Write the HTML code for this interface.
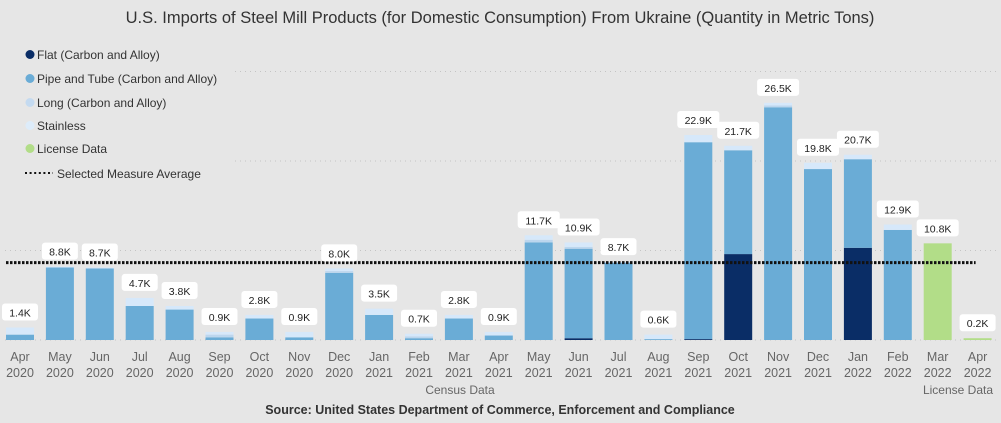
<!DOCTYPE html>
<html><head><meta charset="utf-8"><style>
html,body{margin:0;padding:0;background:#e6e6e6;}
svg{display:block;font-family:"Liberation Sans",sans-serif;}
</style></head><body>
<svg id="chart" width="1001" height="423">
<rect x="0" y="0" width="1001" height="423" fill="#e6e6e6"/>
<text x="500" y="23" text-anchor="middle" font-size="16.5" fill="#333">U.S. Imports of Steel Mill Products (for Domestic Consumption) From Ukraine  (Quantity in Metric Tons)</text>
<g id="grid"></g>
<g id="bars"></g>
<g id="avg"></g>
<g id="labels"></g>
<g id="xaxis"></g>
<rect x="0" y="40" width="232" height="145" fill="#e6e6e6"/>
<g font-size="12" fill="#333">
<g><circle cx="30" cy="54.5" r="4.5" fill="#0a2d66"/><text x="37" y="59" fill="#333">Flat (Carbon and Alloy)</text></g>
<g><circle cx="30" cy="78.5" r="4.5" fill="#6aacd6"/><text x="37" y="83" fill="#333">Pipe and Tube (Carbon and Alloy)</text></g>
<g><circle cx="30" cy="102.5" r="4.5" fill="#c4daf0"/><text x="37" y="107" fill="#333">Long (Carbon and Alloy)</text></g>
<g><circle cx="30" cy="125.5" r="4.5" fill="#ddecfa"/><text x="37" y="130" fill="#333">Stainless</text></g>
<g><circle cx="30" cy="148.5" r="4.5" fill="#b2dd88"/><text x="37" y="153" fill="#333">License Data</text></g>
<g><line x1="25" y1="173" x2="53" y2="173" stroke="#111" stroke-width="2" stroke-dasharray="2,2.6"/><text x="57" y="178" fill="#333">Selected Measure Average</text></g>
</g>
<text x="460" y="394" text-anchor="middle" font-size="12" fill="#666">Census Data</text>
<text x="958" y="394" text-anchor="middle" font-size="12" fill="#666">License Data</text>
<text x="500" y="414" text-anchor="middle" font-size="12.5" font-weight="bold" fill="#333">Source: United States Department of Commerce, Enforcement and Compliance</text>
</svg>
<script>
const months = ["Apr","May","Jun","Jul","Aug","Sep","Oct","Nov","Dec","Jan","Feb","Mar","Apr","May","Jun","Jul","Aug","Sep","Oct","Nov","Dec","Jan","Feb","Mar","Apr"];
const years = ["2020","2020","2020","2020","2020","2020","2020","2020","2020","2021","2021","2021","2021","2021","2021","2021","2021","2021","2021","2021","2021","2022","2022","2022","2022"];
const flat = [0,0,0,0,0,0,0,0,0,0,0,0,0,0,0.2,0,0,0.1,9.6,0,0,10.3,0,0,0];
const pipe = [0.6,8.1,8.0,3.8,3.4,0.3,2.4,0.3,7.5,2.8,0.2,2.4,0.5,10.9,10.0,8.6,0.1,22.0,11.6,26.0,19.1,9.9,12.3,0,0];
const longP = [0,0,0,0,0,0.3,0,0,0.2,0,0.2,0,0,0.3,0.2,0.1,0,0,0,0.2,0,0,0,0,0];
const stainless = [0.8,0.1,0.1,0.9,0.4,0.3,0.4,0.6,0.3,0.7,0.3,0.4,0.4,0.5,0.5,0,0.5,0.8,0.5,0.3,0.7,0.5,0.6,0,0];
const license = [0,0,0,0,0,0,0,0,0,0,0,0,0,0,0,0,0,0,0,0,0,0,0,10.8,0.2];
const totalLabels = ["1.4K","8.8K","8.7K","4.7K","3.8K","0.9K","2.8K","0.9K","8.0K","3.5K","0.7K","2.8K","0.9K","11.7K","10.9K","8.7K","0.6K","22.9K","21.7K","26.5K","19.8K","20.7K","12.9K","10.8K","0.2K"];
const yTicks = [0,10,20,30];
const average = 8.65;

const NS="http://www.w3.org/2000/svg";
const x0=20, step=39.9, bw=28, base=340, ppk=8.95;
const xs=i=>x0+i*step;
const ys=v=>base-v*ppk;
function mk(t,a,p){const e=document.createElementNS(NS,t);for(const k in a)e.setAttribute(k,a[k]);p.appendChild(e);return e;}
const G=document.getElementById('grid'),B=document.getElementById('bars'),L=document.getElementById('labels'),X=document.getElementById('xaxis'),A=document.getElementById('avg');
yTicks.forEach(t=>{
  const l=mk('line',{x1:5,x2:1000,y1:ys(t),y2:ys(t),stroke:'#c4c4c4','stroke-width':1,'stroke-dasharray':'1,4'},G);
  
  
});
const series=[[flat,'#0a2d66','flat'],[pipe,'#6aacd6','pipe'],[longP,'#bcd6ee','long'],[stainless,'#d6e8fa','stainless'],[license,'#b2dd88','license']];
months.forEach((m,i)=>{
  let acc=0;
  series.forEach(([arr,col,nm])=>{
    const v=arr[i]; if(v<=0) return;
    const r=mk('rect',{x:xs(i)-bw/2,y:ys(acc+v),width:bw,height:v*ppk,fill:col},B);
    
    
    acc+=v;
  });
  const top=ys(acc);
  const w=totalLabels[i].length>4?42:36;
  const g=mk('g',{},L);
  
  
  mk('rect',{x:xs(i)-w/2,y:top-24,width:w,height:17,rx:3,fill:'#fff'},g);
  const t=mk('text',{x:xs(i),y:top-11,'text-anchor':'middle','font-size':10.5,fill:'#222'},g);
  t.textContent=totalLabels[i];
  const t1=mk('text',{x:xs(i),y:361,'text-anchor':'middle','font-size':12.5,fill:'#666'},X);
  t1.textContent=m;
  
  
  const t2=mk('text',{x:xs(i),y:377,'text-anchor':'middle','font-size':12.5,fill:'#666'},X);
  t2.textContent=years[i];
  
  
});
const al=mk('line',{x1:xs(0)-bw/2,x2:xs(24)-2,y1:ys(average),y2:ys(average),stroke:'#111','stroke-width':3,'stroke-dasharray':'2.5,1.5'},A);


</script>
</body></html>
